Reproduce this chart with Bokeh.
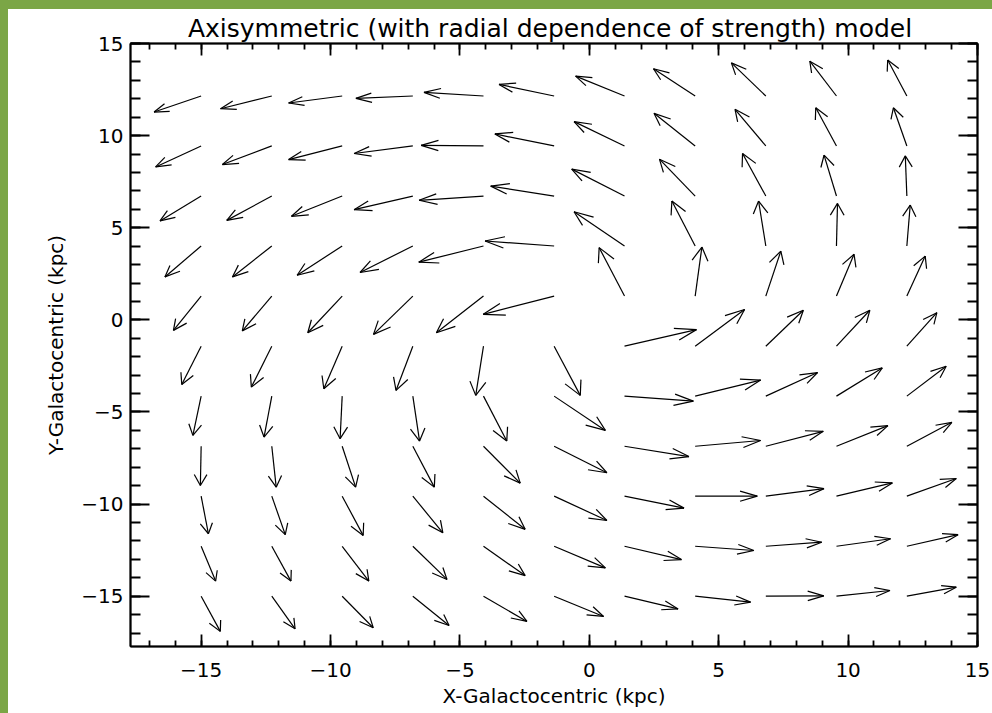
import math
from bokeh.plotting import figure
from bokeh.models import Range1d, FixedTicker, LinearAxis, Title, Div, CustomJSTickFormatter
from bokeh.layouts import row, column
from bokeh.embed import file_html
from bokeh.resources import INLINE

# ---------------- data ----------------
grid_x = [-15.0, -12.27, -9.55, -6.82, -4.09, -1.36, 1.36, 4.09, 6.82, 9.55, 12.27]
grid_y = [12.15, 9.44, 6.72, 4.01, 1.29, -1.43, -4.14, -6.86, -9.57, -12.29, -15.0]  # rows, top to bottom

U = [
    [-1.82, -1.98, -2.07, -2.20, -2.30, -2.13, -1.89, -1.61, -1.33, -1.03, -0.74],
    [-1.76, -1.91, -2.07, -2.27, -2.41, -2.29, -1.95, -1.59, -1.19, -0.80, -0.52],
    [-1.59, -1.74, -1.96, -2.27, -2.49, -2.45, -2.04, -1.38, -0.90, -0.48, -0.06],
    [-1.40, -1.52, -1.74, -2.04, -2.50, -2.67, -1.95, -0.90, -0.28, 0.04, 0.13],
    [-1.07, -1.14, -1.33, -1.52, -1.82, -2.74, -0.98, 0.26, 0.58, 0.68, 0.71],
    [-0.75, -0.79, -0.71, -0.65, -0.30, 1.01, 2.78, 1.91, 1.45, 1.29, 1.16],
    [-0.32, -0.30, -0.08, 0.26, 0.90, 1.98, 2.66, 2.53, 2.00, 1.77, 1.52],
    [-0.03, 0.17, 0.52, 0.83, 1.42, 2.04, 2.49, 2.53, 2.22, 1.99, 1.74],
    [0.28, 0.52, 0.81, 1.16, 1.61, 2.04, 2.30, 2.40, 2.25, 2.16, 1.91],
    [0.56, 0.74, 1.03, 1.32, 1.61, 1.98, 2.20, 2.27, 2.16, 2.09, 1.98],
    [0.74, 0.90, 1.20, 1.40, 1.68, 1.91, 2.07, 2.14, 2.24, 2.07, 1.91],
]
V = [
    [-0.87, -0.69, -0.38, -0.13, 0.20, 0.63, 1.08, 1.48, 1.80, 1.89, 1.95],
    [-1.14, -1.01, -0.74, -0.41, 0.03, 0.65, 1.32, 1.77, 1.99, 2.07, 2.07],
    [-1.35, -1.32, -1.10, -0.74, -0.23, 0.54, 1.46, 2.00, 2.31, 2.22, 2.18],
    [-1.68, -1.68, -1.59, -1.44, -0.88, 0.27, 1.86, 2.44, 2.44, 2.31, 2.22],
    [-1.86, -1.89, -1.99, -2.08, -1.99, -0.99, 2.63, 2.66, 2.44, 2.27, 2.17],
    [-2.08, -2.22, -2.31, -2.40, -2.67, -2.67, 0.90, 1.99, 1.95, 1.95, 1.82],
    [-2.13, -2.22, -2.31, -2.44, -2.44, -1.86, -0.27, 0.87, 1.28, 1.53, 1.62],
    [-2.13, -2.22, -2.22, -2.22, -2.00, -1.44, -0.56, 0.31, 0.81, 1.12, 1.30],
    [-2.04, -2.09, -2.13, -1.99, -1.80, -1.32, -0.65, 0.00, 0.41, 0.72, 0.96],
    [-1.89, -1.89, -1.89, -1.80, -1.59, -1.17, -0.72, -0.23, 0.22, 0.41, 0.63],
    [-1.91, -1.77, -1.71, -1.59, -1.37, -1.10, -0.69, -0.32, 0.02, 0.31, 0.49],
]

major_ticks = [-15, -10, -5, 0, 5, 10, 15]
minor_ticks = list(range(-17, 16))
tick_text = {t: str(t).replace("-", "\u2212") for t in major_ticks}

title_text = "Axisymmetric (with radial dependence of strength)  model"
x_label = "X-Galactocentric (kpc)"
y_label = "Y-Galactocentric (kpc)"

GREEN = "#7ba646"
FONT = "DejaVu Sans"

# ---------------- arrows (IDL velovect style) ----------------
r_head = 0.3
ang = math.radians(22.5)
st = r_head * math.sin(ang)
ct = r_head * math.cos(ang)

sx0, sy0, sx1, sy1 = [], [], [], []
for i, yv in enumerate(grid_y):
    for j, xv in enumerate(grid_x):
        dx = U[i][j]
        dy = V[i][j]
        x1 = xv + dx
        y1 = yv + dy
        sx0.append(xv); sy0.append(yv); sx1.append(x1); sy1.append(y1)
        sx0.append(x1); sy0.append(y1)
        sx1.append(x1 - (ct * dx - st * dy)); sy1.append(y1 - (ct * dy + st * dx))
        sx0.append(x1); sy0.append(y1)
        sx1.append(x1 - (ct * dx + st * dy)); sy1.append(y1 - (ct * dy - st * dx))

# ---------------- figure ----------------
p = figure(width=984, height=704,
           x_range=Range1d(-17.73, 15), y_range=Range1d(-17.73, 15),
           output_backend="svg", toolbar_location=None,
           x_axis_location=None, y_axis_location=None,
           min_border_left=122, min_border_right=15,
           min_border_top=34, min_border_bottom=67, margin=0)
p.background_fill_color = "white"
p.border_fill_color = "white"
p.outline_line_color = "black"
p.outline_line_width = 1.5
for g in p.grid:
    g.visible = False

p.title = Title(text=title_text, align="center", text_font=FONT,
                text_font_size="25px", text_font_style="normal",
                text_color="black", standoff=2)


def make_axis(is_x, labels):
    ax = LinearAxis(ticker=FixedTicker(ticks=major_ticks, minor_ticks=minor_ticks))
    ax.axis_line_color = "black"
    ax.axis_line_width = 2
    ax.major_tick_line_color = "black"
    ax.minor_tick_line_color = "black"
    ax.major_tick_line_width = 1.8
    ax.minor_tick_line_width = 1.8
    ax.major_tick_out = 0
    ax.minor_tick_out = 0
    if is_x:
        ax.major_tick_in = 12
        ax.minor_tick_in = 6
    else:
        ax.major_tick_in = 19
        ax.minor_tick_in = 10
    if labels:
        ax.major_label_overrides = tick_text
        ax.major_label_text_font = FONT
        ax.major_label_text_font_size = "20px"
        ax.major_label_text_color = "black"
        ax.axis_label_text_font = FONT
        ax.axis_label_text_font_size = "20px"
        ax.axis_label_text_font_style = "normal"
        ax.axis_label_text_color = "black"
        if is_x:
            ax.major_label_standoff = 16
            ax.axis_label = x_label
            ax.axis_label_standoff = 4
        else:
            ax.major_label_standoff = 7
            ax.axis_label = y_label
            ax.axis_label_standoff = 10
    else:
        ax.formatter = CustomJSTickFormatter(code="return ''")
        ax.major_label_standoff = 0
        ax.axis_label = None
    return ax


p.add_layout(make_axis(True, True), "below")
p.add_layout(make_axis(False, True), "left")
p.add_layout(make_axis(True, False), "above")
p.add_layout(make_axis(False, False), "right")

p.segment(x0=sx0, y0=sy0, x1=sx1, y1=sy1, line_color="black", line_width=1.2)

top_strip = Div(text="", width=992, height=9, margin=0,
                styles={"background-color": GREEN})
left_strip = Div(text="", width=8, height=704, margin=0,
                 styles={"background-color": GREEN})
layout = column(top_strip, row(left_strip, p, margin=0, spacing=0), margin=0, spacing=0)

open("out.html", "w").write(file_html(layout, INLINE))
